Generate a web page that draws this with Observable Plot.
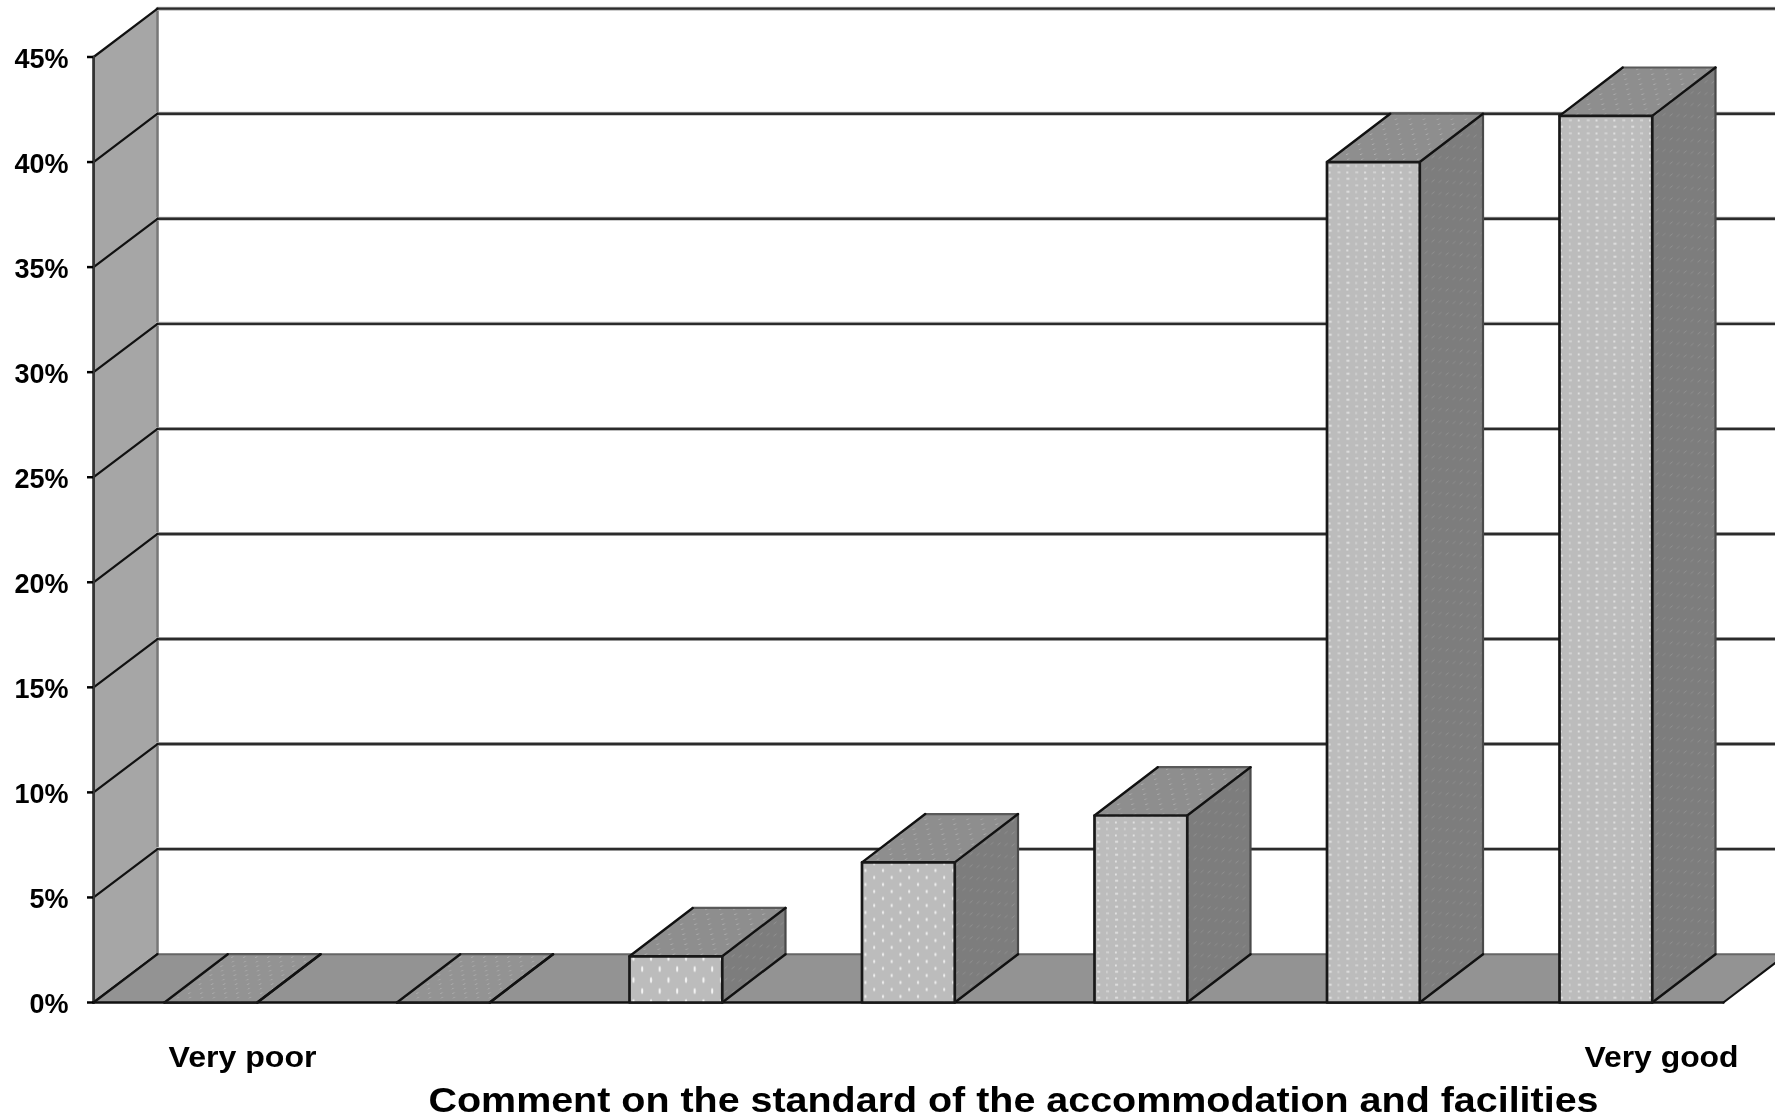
<!DOCTYPE html>
<html>
<head>
<meta charset="utf-8">
<script src="https://cdn.jsdelivr.net/npm/d3@7"></script>
<script src="https://cdn.jsdelivr.net/npm/@observablehq/plot@0.6"></script>
<style>
  html, body { margin: 0; padding: 0; background: #fff; }
  svg { display: block; filter: blur(0.55px); }
</style>
</head>
<body>
<div id="chart"></div>
<script>
const categories = [1, 2, 3, 4, 5, 6, 7];
const values = [0, 0, 2.2, 6.67, 8.9, 40, 42.2];
const yTicks = [0, 5, 10, 15, 20, 25, 30, 35, 40, 45];
const endLabels = ["Very poor", "Very good"];
const axisTitle = "Comment on the standard of the accommodation and facilities";
const frontPatterns = ["front-a", "front-a", "front-a", "front-b", "front-c", "front-c", "front-c"];
const topPatterns = ["top-flat", "top-flat", "top", "top", "top", "top", "top"];

// Oblique projection, in data units
const depthX = 0.272, depthY = 2.3, barW = 0.399;
const wallX = -0.305, floorEnd = 6.705, gridEnd = 7.0;

const bars = categories.map((c, i) => ({i, c, v: values[i], l: i, r: i + barW}));

function poly(list, pts) {            // list items -> closed rows for a filled Plot.line
  return list.flatMap((b, k) => {
    const p = pts(b);
    return [...p, p[0]].map(([x, y]) => ({x, y, k}));
  });
}
function segs(list, pts) {
  return list.flatMap((b, k) => pts(b).map(([x, y]) => ({x, y, k})));
}
const F = (o) => ({x: "x", y: "y", z: "k", ...o});
const fillFace = (rows, fill) => Plot.line(rows, F({fill, stroke: "none"}));
const edge = (rows, stroke, strokeWidth) => Plot.line(rows, F({stroke, strokeWidth, strokeLinecap: "round"}));

// stretch a text mark to the measured run length of the original lettering
const stretched = (length) => (index, scales, values, dimensions, context, next) => {
  const g = next(index, scales, values, dimensions, context);
  g.querySelectorAll("text").forEach((t) => {
    t.setAttribute("textLength", length);
    t.setAttribute("lengthAdjust", "spacingAndGlyphs");
  });
  return g;
};

const defs = () => d3.create("svg:defs").html(`
  <pattern id="front-a" patternUnits="userSpaceOnUse" width="17.5" height="22" x="629" y="952">
    <rect width="17.5" height="22" fill="#bcbcbc"/>
    <ellipse cx="4" cy="5.5" rx="1.1" ry="3" fill="#f4f4f4"/>
    <ellipse cx="12.7" cy="16.5" rx="1.1" ry="3" fill="#f4f4f4"/>
  </pattern>
  <pattern id="front-b" patternUnits="userSpaceOnUse" width="17.5" height="14" x="861" y="866">
    <rect width="17.5" height="14" fill="#bcbcbc"/>
    <ellipse cx="4" cy="4" rx="1.1" ry="1.7" fill="#eeeeee"/>
    <ellipse cx="12.7" cy="11" rx="1.1" ry="1.7" fill="#eeeeee"/>
  </pattern>
  <pattern id="front-c" patternUnits="userSpaceOnUse" width="17.8" height="13">
    <rect width="17.8" height="13" fill="#bcbcbc"/>
    <rect x="2" y="2" width="3" height="1.6" fill="#d8d8d8"/>
    <rect x="11" y="2" width="1.6" height="2" fill="#e8e8e8"/>
    <rect x="2" y="8.5" width="1.6" height="2" fill="#d8d8d8"/>
    <rect x="11" y="8.5" width="3" height="1.6" fill="#e8e8e8"/>
  </pattern>
  <pattern id="top" patternUnits="userSpaceOnUse" width="14" height="10" patternTransform="skewX(-50)">
    <rect width="14" height="10" fill="#8e8e8e"/>
    <rect x="3" y="3" width="1.6" height="1.4" fill="#adadad"/>
    <rect x="10" y="8" width="1.6" height="1.4" fill="#a6a6a6"/>
  </pattern>
  <pattern id="top-flat" patternUnits="userSpaceOnUse" width="12" height="9" patternTransform="skewX(-50)">
    <rect width="12" height="9" fill="#939393"/>
    <rect x="3" y="2" width="1.6" height="1.4" fill="#adadad"/>
    <rect x="9" y="6.5" width="1.6" height="1.4" fill="#a8a8a8"/>
  </pattern>
  <pattern id="side" patternUnits="userSpaceOnUse" width="14" height="12" patternTransform="skewY(-38)">
    <rect width="14" height="12" fill="#7d7d7d"/>
    <rect x="3" y="3" width="3" height="1.2" fill="#8e8e8e"/>
    <rect x="10" y="9" width="3" height="1.2" fill="#8a8a8a"/>
  </pattern>
`).node();

// Faces
const frontFace = (b) => [[b.l, 0], [b.r, 0], [b.r, b.v], [b.l, b.v]];
const topFace = (b) => [[b.l, b.v], [b.r, b.v], [b.r + depthX, b.v + depthY], [b.l + depthX, b.v + depthY]];
const sideFace = (b) => [[b.r, 0], [b.r + depthX, depthY], [b.r + depthX, b.v + depthY], [b.r, b.v]];

const ext = [{}];
const textStyle = {fontFamily: "Liberation Sans", fontWeight: "bold", fill: "#000"};
const plot = Plot.plot({
  width: 1775,
  height: 1120,
  marginLeft: 93,
  marginRight: 0,
  marginTop: 0,
  marginBottom: 0,
  style: {background: "#fff", overflow: "hidden"},
  x: {domain: [0, 6], range: [164, 1559], axis: null},
  y: {domain: [0, 45], range: [1002, 56.5], axis: null},
  marks: [
    defs,
    // side wall
    fillFace(poly(ext, () => [[wallX, 0], [wallX + depthX + 0.003, depthY], [wallX + depthX + 0.003, 45 + depthY], [wallX, 45]]), "#a6a6a6"),
    edge(segs(ext, () => [[wallX + depthX + 0.003, depthY], [wallX + depthX + 0.003, 45 + depthY]]), "#777", 2.5),
    // back-wall grid lines, halo then line
    edge(segs(yTicks.filter(t => t > 0), (t) => [[wallX + depthX + 0.003, t + depthY], [gridEnd, t + depthY]]), "#bbb", 4),
    edge(segs(yTicks.filter(t => t > 0), (t) => [[wallX + depthX + 0.003, t + depthY], [gridEnd, t + depthY]]), "#2b2b2b", 2.4),
    // wall diagonals
    edge(segs(yTicks, (t) => [[wallX, t], [wallX + depthX + 0.003, t + depthY]]), "#111", 2.2),
    edge(segs(ext, () => [[wallX, 0], [wallX, 45]]), "#333", 2.8),
    // floor
    fillFace(poly(ext, () => [[wallX, 0], [floorEnd, 0], [floorEnd + depthX, depthY], [wallX + depthX + 0.003, depthY]]), "#939393"),
    edge(segs(ext, () => [[wallX + depthX + 0.003, depthY], [gridEnd, depthY]]), "#666", 2),
    edge(segs(ext, () => [[wallX, 0], [wallX + depthX + 0.003, depthY]]), "#111", 2.2),
    edge(segs(ext, () => [[floorEnd, 0], [floorEnd + depthX, depthY]]), "#111", 2.2),
    edge(segs(ext, () => [[wallX, 0], [floorEnd, 0]]), "#111", 2.6),
    // bars
    ...bars.flatMap((b) => [
      fillFace(poly([b], sideFace), "url(#side)"),
      fillFace(poly([b], topFace), `url(#${topPatterns[b.i]})`),
      fillFace(poly([b], frontFace), `url(#${frontPatterns[b.i]})`),
      edge(segs([b], (d) => [[d.l + depthX, d.v + depthY], [d.r + depthX, d.v + depthY]]), "#5a5a5a", 2.2),
      edge(segs([b], (d) => [[d.r + depthX, depthY], [d.r + depthX, d.v + depthY]]), "#4a4a4a", 2.2),
      edge(segs([b], (d) => [[d.r, 0], [d.r + depthX, depthY]]), "#111", 2.4),
      edge(segs([b], (d) => [[d.l, d.v], [d.l + depthX, d.v + depthY]]), "#111", 2.4),
      edge(segs([b], (d) => [[d.r, d.v], [d.r + depthX, d.v + depthY]]), "#111", 2.4),
      edge(segs([b], (d) => [[d.l, d.v], [d.l, 0], [d.r, 0], [d.r, d.v], [d.l, d.v]]), "#181818", 2.7)
    ]),
    // y axis: tick marks, then labels set slightly below them
    Plot.axisY(yTicks, {
      anchor: "left",
      tickSize: 6,
      strokeWidth: 2.5,
      stroke: "#000",
      tickFormat: () => "",
      label: null
    }),
    Plot.axisY(yTicks, {
      anchor: "left",
      tickSize: 0,
      tickPadding: 25,
      dy: 2,
      tickFormat: (d) => `${d}%`,
      fontSize: 27,
      label: null,
      ...textStyle
    }),
    // ends of the rating scale
    Plot.text([endLabels[0]], {
      x: () => 0 + barW / 2 + depthX / 2,
      text: (d) => d,
      frameAnchor: "bottom",
      dy: -63,
      lineAnchor: "middle",
      fontSize: 29,
      render: stretched(148),
      ...textStyle
    }),
    Plot.text([endLabels[1]], {
      x: () => 6 + barW / 2 + depthX / 2,
      text: (d) => d,
      frameAnchor: "bottom",
      dx: 24,
      dy: -63,
      lineAnchor: "middle",
      fontSize: 29,
      render: stretched(154),
      ...textStyle
    }),
    Plot.text([axisTitle], {
      text: (d) => d,
      frameAnchor: "bottom",
      dx: 79,
      dy: -20,
      lineAnchor: "middle",
      fontSize: 35,
      render: stretched(1170),
      ...textStyle
    })
  ]
});
document.getElementById("chart").append(plot);
</script>
</body>
</html>
